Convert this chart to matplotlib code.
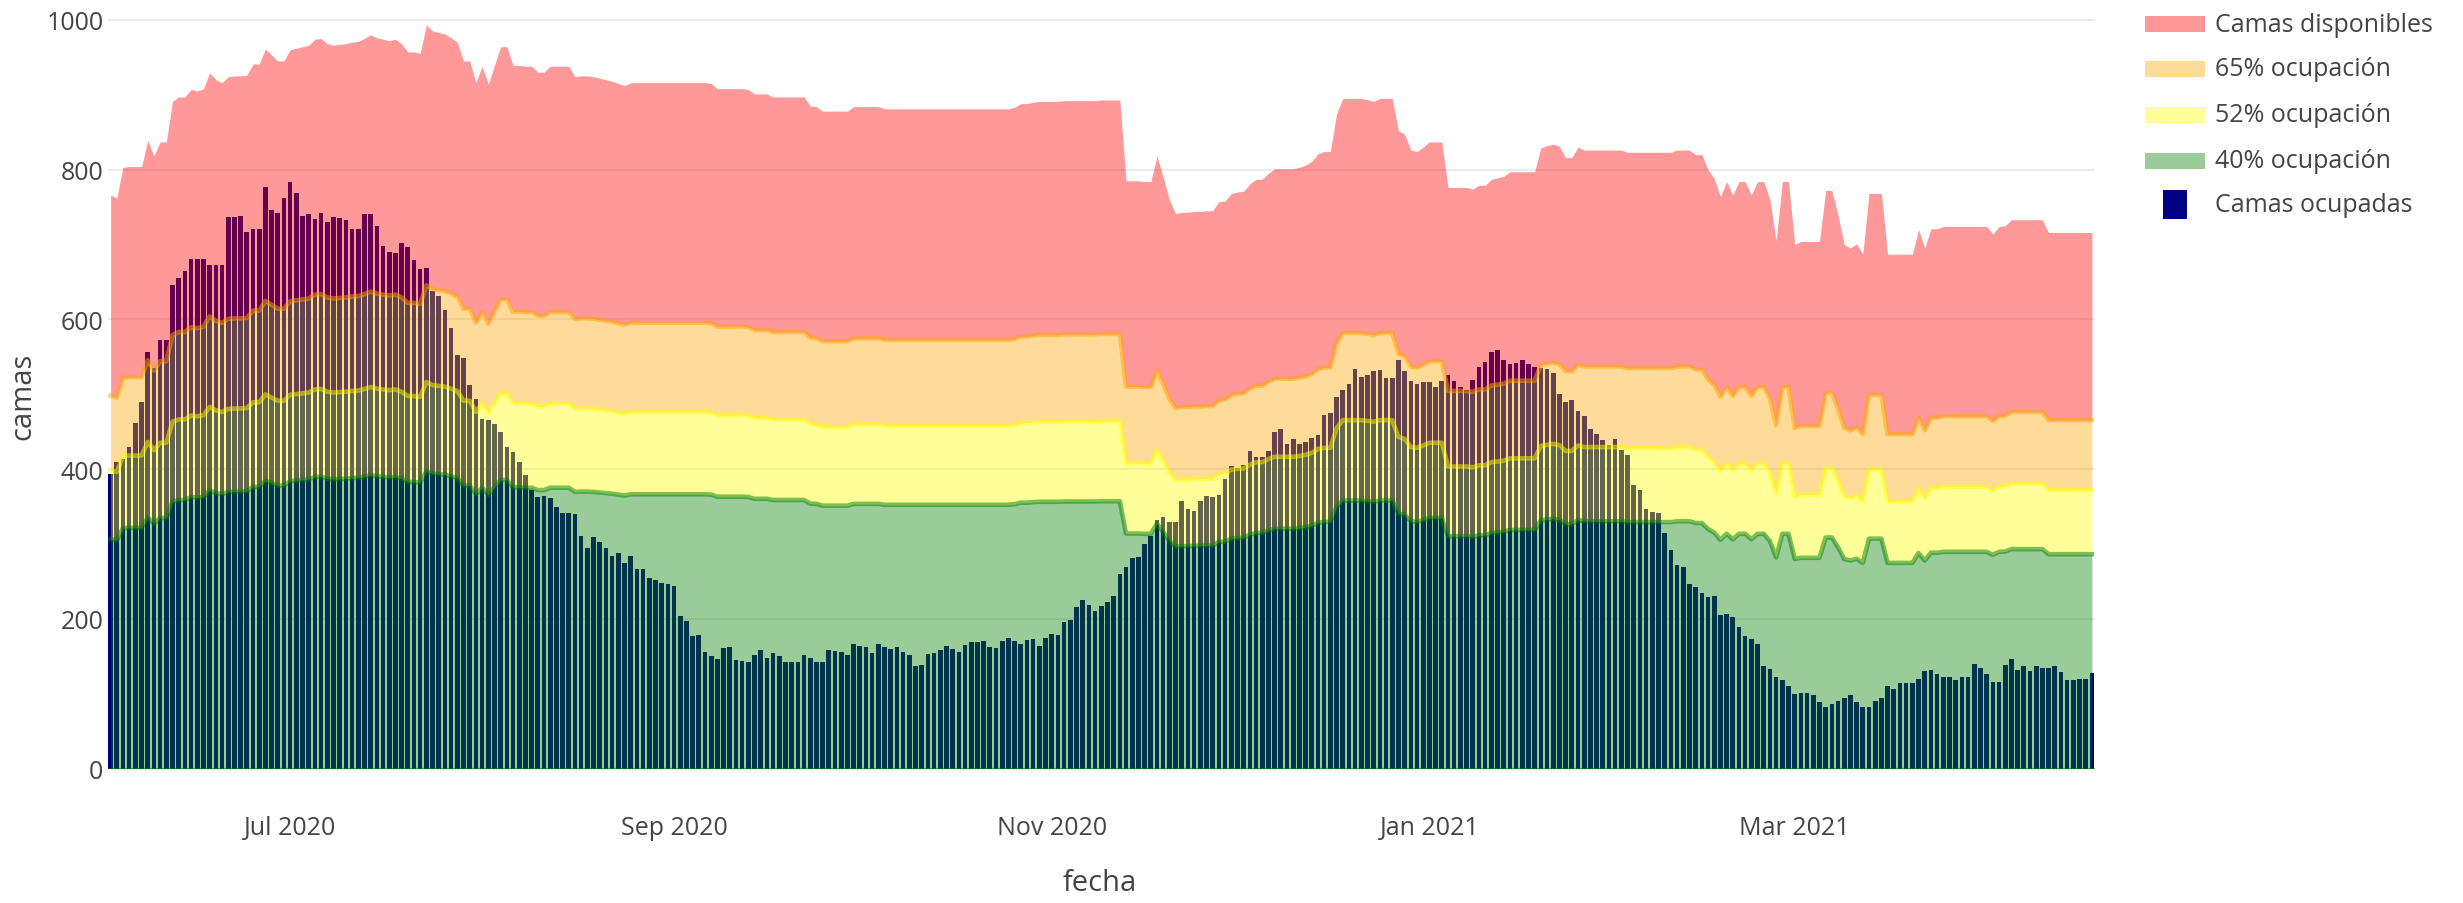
# Ocupación de camas: barras diarias y bandas de ocupación (estilo plotly)

import numpy as np
import pandas as pd
import matplotlib.pyplot as plt
import matplotlib.dates as mdates
from matplotlib.patches import Rectangle

plt.rcParams["font.family"] = ["Open Sans", "DejaVu Sans"]

W, H = 2463, 904
TXT = "#444444"

fecha_inicio = "2020-06-02"

# camas ocupadas por dia
camas_ocupadas = [
    394, 410, 414, 430, 461, 489, 556, 535, 573, 572,
    646, 655, 664, 680, 681, 680, 672, 673, 673, 737,
    736, 738, 717, 720, 720, 777, 746, 742, 762, 783,
    769, 738, 741, 734, 742, 730, 737, 735, 732, 721,
    721, 740, 740, 725, 698, 690, 689, 702, 696, 679,
    667, 669, 638, 631, 612, 588, 552, 548, 512, 494,
    467, 466, 460, 449, 429, 423, 410, 392, 372, 363,
    364, 362, 350, 341, 341, 340, 311, 295, 310, 303,
    295, 284, 288, 274, 284, 267, 266, 255, 252, 248,
    247, 244, 204, 197, 177, 179, 156, 151, 147, 161,
    163, 145, 144, 142, 152, 159, 148, 155, 150, 143,
    143, 142, 152, 148, 143, 143, 159, 157, 156, 152,
    166, 164, 162, 155, 166, 163, 160, 162, 156, 152,
    137, 138, 153, 155, 158, 164, 160, 156, 165, 169,
    169, 171, 162, 161, 171, 175, 170, 166, 172, 173,
    164, 174, 180, 179, 196, 198, 216, 225, 219, 210,
    217, 223, 231, 260, 269, 281, 282, 300, 311, 332,
    336, 329, 329, 358, 347, 344, 357, 364, 363, 365,
    387, 404, 401, 406, 424, 416, 416, 424, 449, 454,
    434, 440, 434, 436, 442, 445, 472, 475, 496, 506,
    513, 534, 523, 526, 531, 532, 521, 522, 546, 531,
    517, 513, 516, 516, 509, 518, 526, 517, 509, 506,
    519, 537, 543, 556, 559, 546, 541, 542, 546, 540,
    537, 535, 534, 528, 500, 489, 492, 477, 471, 454,
    447, 439, 432, 440, 425, 419, 379, 372, 347, 343,
    341, 315, 292, 272, 269, 247, 242, 234, 229, 230,
    205, 207, 203, 189, 177, 173, 166, 137, 133, 123,
    118, 111, 100, 101, 101, 98, 89, 83, 87, 91,
    95, 99, 89, 83, 83, 90, 94, 110, 107, 114,
    114, 114, 120, 130, 132, 126, 122, 123, 118, 122,
    122, 140, 134, 126, 116, 116, 139, 146, 132, 137,
    131, 137, 134, 134, 137, 129, 118, 119, 120, 120,
    128,
]

# camas disponibles por dia
camas_disponibles = [
    766, 762, 803, 804, 804, 804, 839, 818, 837, 837,
    891, 897, 897, 907, 905, 908, 929, 920, 916, 924,
    925, 925, 926, 941, 941, 961, 953, 945, 945, 960,
    962, 964, 966, 974, 975, 968, 966, 967, 968, 970,
    971, 975, 980, 976, 974, 972, 974, 968, 957, 957,
    955, 993, 985, 983, 981, 976, 970, 945, 945, 916,
    938, 914, 939, 964, 964, 939, 939, 938, 938, 930,
    930, 938, 938, 938, 938, 924, 925, 925, 924, 922,
    920, 918, 915, 912, 916, 916, 916, 916, 916, 916,
    916, 916, 916, 916, 916, 916, 916, 915, 908, 908,
    908, 908, 908, 907, 901, 901, 901, 897, 897, 897,
    897, 897, 897, 885, 884, 878, 878, 878, 878, 878,
    884, 884, 884, 884, 884, 881, 881, 881, 881, 881,
    881, 881, 881, 881, 881, 881, 881, 881, 881, 881,
    881, 881, 881, 881, 881, 881, 883, 888, 888, 890,
    891, 891, 891, 891, 892, 892, 892, 892, 892, 892,
    893, 893, 893, 893, 785, 785, 785, 784, 784, 818,
    790, 760, 741, 743, 743, 744, 744, 745, 745, 757,
    758, 768, 770, 771, 781, 787, 787, 795, 801, 801,
    801, 801, 803, 806, 811, 821, 824, 824, 874, 895,
    895, 895, 895, 893, 891, 895, 895, 895, 852, 847,
    826, 824, 830, 837, 837, 837, 776, 776, 776, 776,
    774, 779, 779, 787, 789, 791, 797, 797, 797, 797,
    797, 829, 832, 834, 831, 816, 816, 830, 826, 826,
    826, 826, 826, 826, 826, 823, 823, 823, 823, 823,
    823, 823, 823, 826, 826, 826, 820, 820, 800, 788,
    764, 784, 766, 784, 784, 766, 784, 784, 760, 705,
    784, 784, 700, 704, 704, 704, 704, 772, 772, 739,
    700, 695, 701, 687, 768, 768, 768, 687, 687, 687,
    687, 687, 720, 695, 721, 721, 724, 724, 724, 724,
    724, 724, 724, 724, 714, 724, 725, 733, 733, 733,
    733, 733, 733, 716, 716, 716, 716, 716, 716, 716,
    716,
]

niveles = [0.40, 0.52, 0.65]
nombres_niveles = ["40% ocupación", "52% ocupación", "65% ocupación"]
colores_niveles = [(0, 0.502, 0), (1, 1, 0), (1, 0.647, 0)]
color_disponibles = (1, 0, 0)

fechas = pd.date_range(fecha_inicio, periods=len(camas_ocupadas), freq="D")
disp = np.array(camas_disponibles, dtype=float)
umbrales = [disp * p for p in niveles]


def px(x, y):
    return x / W, 1 - y / H


fig = plt.figure(figsize=(W / 100, H / 100), dpi=100)
left, top = px(107.5, 18.5)
right, bottom = px(2095, 769.7)
ax = fig.add_axes([left, bottom, right - left, top - bottom])

ax.bar(fechas, camas_ocupadas, width=0.75, color="navy", linewidth=0, zorder=1)

# bandas apiladas
bordes = [np.zeros_like(disp)] + umbrales + [disp]
colores = colores_niveles + [color_disponibles]
for i in range(4):
    ax.fill_between(fechas, bordes[i], bordes[i + 1], color=colores[i], alpha=0.4,
                    linewidth=0, zorder=2)
for u, c in zip(umbrales, colores_niveles):
    ax.plot(fechas, u, color=c, alpha=0.5, linewidth=3.3, zorder=3, solid_joinstyle="round")
ax.axhline(0, color=(0, 0.502, 0), alpha=0.5, linewidth=1.6, zorder=3)

ax.set_xlim(fechas[0] - pd.Timedelta(hours=12), fechas[-1] + pd.Timedelta(hours=12))
ax.set_ylim(0, 1003)
ax.set_yticks([0, 200, 400, 600, 800, 1000])
ax.xaxis.set_major_locator(mdates.MonthLocator(bymonth=[1, 3, 5, 7, 9, 11]))
ax.xaxis.set_major_formatter(mdates.DateFormatter("%b %Y"))
ax.yaxis.grid(True, color="#ebebeb", linewidth=1.5)
ax.set_axisbelow(True)
for s in ax.spines.values():
    s.set_visible(False)
ax.tick_params(axis="x", length=0, pad=33, labelsize=18, labelcolor=TXT)
ax.tick_params(axis="y", length=0, pad=3, labelsize=18, labelcolor=TXT)

fig.text(*px(23, 396), "camas", rotation=90, ha="center", va="center",
         fontsize=21, color=TXT)
fig.text(*px(1100, 884), "fecha", ha="center", va="center", fontsize=21, color=TXT)

# leyenda
filas = [25, 70, 116, 162]
items = [("Camas disponibles", color_disponibles)] + list(
    zip(reversed(nombres_niveles), reversed(colores_niveles)))
for yc, (nombre, c) in zip(filas, items):
    x0, y0 = px(2145, yc + 8)
    fig.add_artist(Rectangle((x0, y0), 60 / W, 16 / H, transform=fig.transFigure,
                             facecolor=c, alpha=0.4, edgecolor="none"))
    fig.text(*px(2215, yc), nombre, ha="left", va="center", fontsize=18, color=TXT)
x0, y0 = px(2163, 220)
fig.add_artist(Rectangle((x0, y0), 24 / W, 29 / H, transform=fig.transFigure,
                         facecolor="navy", edgecolor="none"))
fig.text(*px(2215, 205), "Camas ocupadas", ha="left", va="center", fontsize=18, color=TXT)

fig.savefig("out.png", dpi=100)
